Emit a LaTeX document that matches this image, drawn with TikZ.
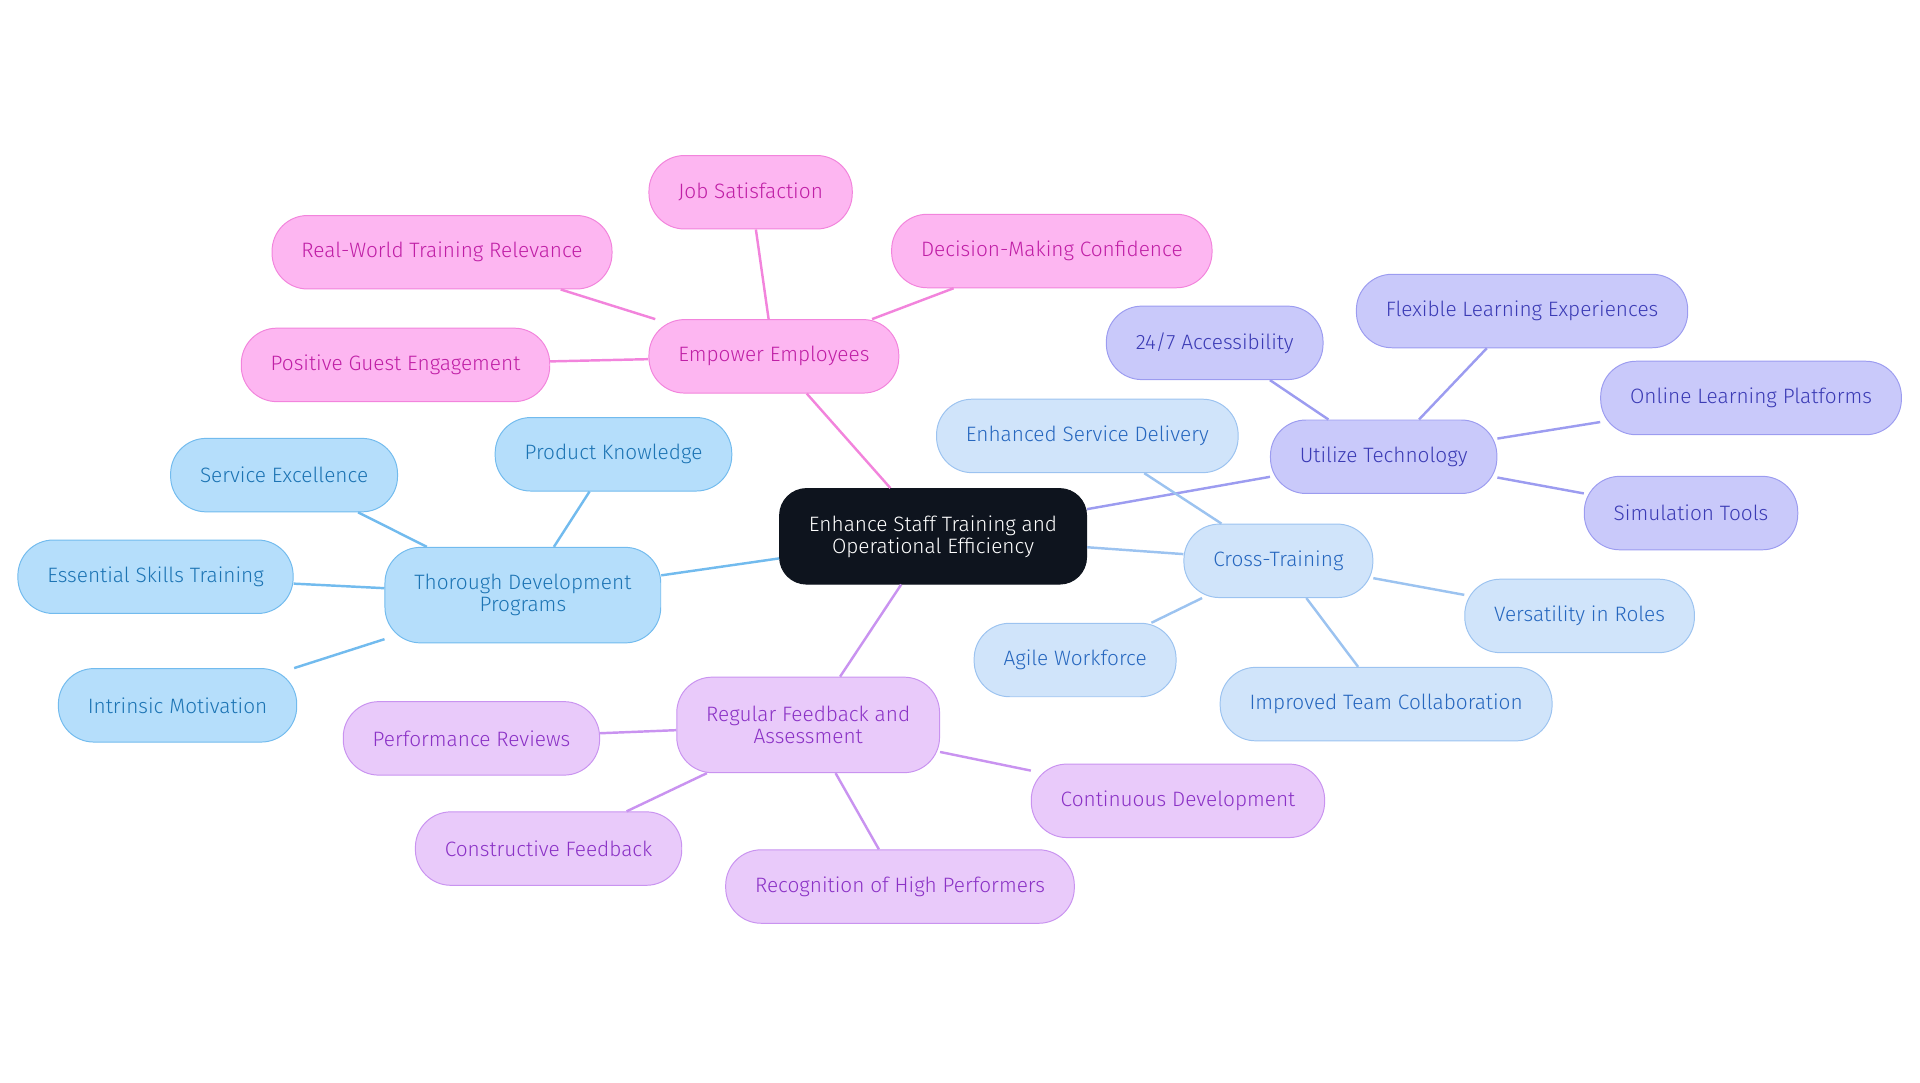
\documentclass[tikz,border=0pt]{standalone}
\usepackage{fontspec}
\setmainfont{Fira Sans}[UprightFont=* Light]
\usetikzlibrary{positioning}
\definecolor{blueF}{HTML}{B5DEFB}\definecolor{blueD}{HTML}{72BBEE}\definecolor{blueT}{HTML}{1C74B4}
\definecolor{pinkF}{HTML}{FDB6F1}\definecolor{pinkD}{HTML}{F284DC}\definecolor{pinkT}{HTML}{C01FA6}
\definecolor{lavF}{HTML}{C9C9FA}\definecolor{lavD}{HTML}{9C9CF0}\definecolor{lavT}{HTML}{3B3BB5}
\definecolor{skyF}{HTML}{D0E4FA}\definecolor{skyD}{HTML}{9CC3F0}\definecolor{skyT}{HTML}{2667BF}
\definecolor{purF}{HTML}{E9CAFA}\definecolor{purD}{HTML}{C993F0}\definecolor{purT}{HTML}{8B32C6}
\definecolor{rootF}{HTML}{0E141E}
\tikzset{
  box/.style={rectangle, rounded corners=29pt, minimum height=60pt, inner xsep=24pt,
    font=\fontsize{17}{18}\selectfont, align=center, line width=0.8pt},
  bluebox/.style={box, fill=blueF, draw=blueD, text=blueT},
  pinkbox/.style={box, fill=pinkF, draw=pinkD, text=pinkT},
  lavbox/.style={box, fill=lavF, draw=lavD, text=lavT},
  skybox/.style={box, fill=skyF, draw=skyD, text=skyT},
  purbox/.style={box, fill=purF, draw=purD, text=purT},
  link/.style={line width=2pt},
}
\begin{document}
\begin{tikzpicture}[x=1pt,y=-1pt]
    \useasboundingbox (0,0) rectangle (1568,884);

    % root
    \node [box, fill=rootF, draw=rootF, text=white, minimum height=78pt, rounded corners=22pt] (root) at (762,438) {Enhance Staff Training and\\Operational Efficiency};

    % blue branch
    \node [bluebox, minimum height=78pt] (dev) at (427,486) {Thorough Development\\Programs};
    \node [bluebox] (prod) at (501,371) {Product Knowledge};
    \node [bluebox] (serv) at (232,388) {Service Excellence};
    \node [bluebox] (ess) at (127,471) {Essential Skills Training};
    \node [bluebox] (intr) at (145,576) {Intrinsic Motivation};

    % pink branch
    \node [pinkbox] (emp) at (632,291) {Empower Employees};
    \node [pinkbox] (job) at (613,157) {Job Satisfaction};
    \node [pinkbox] (real) at (361,206) {Real-World Training Relevance};
    \node [pinkbox] (dec) at (859,205) {Decision-Making Confidence};
    \node [pinkbox] (pos) at (323,298) {Positive Guest Engagement};

    % lavender branch
    \node [lavbox] (tech) at (1130,373) {Utilize Technology};
    \node [lavbox] (acc) at (992,280) {24/7 Accessibility};
    \node [lavbox] (flex) at (1243,254) {Flexible Learning Experiences};
    \node [lavbox] (onl) at (1430,325) {Online Learning Platforms};
    \node [lavbox] (sim) at (1381,419) {Simulation Tools};

    % light blue branch
    \node [skybox] (cross) at (1044,458) {Cross-Training};
    \node [skybox] (enh) at (888,356) {Enhanced Service Delivery};
    \node [skybox] (vers) at (1290,503) {Versatility in Roles};
    \node [skybox] (agile) at (878,539) {Agile Workforce};
    \node [skybox] (team) at (1132,575) {Improved Team Collaboration};

    % purple branch
    \node [purbox, minimum height=78pt] (feed) at (660,592) {Regular Feedback and\\Assessment};
    \node [purbox] (perf) at (385,603) {Performance Reviews};
    \node [purbox] (cons) at (448,693) {Constructive Feedback};
    \node [purbox] (cont) at (962,654) {Continuous Development};
    \node [purbox] (rec) at (735,724) {Recognition of High Performers};

    % connectors
    \draw [link, blueD] (root) -- (dev);
    \foreach \n in {prod,serv,ess,intr} \draw [link, blueD] (dev) -- (\n);
    \draw [link, pinkD] (root) -- (emp);
    \foreach \n in {job,real,dec,pos} \draw [link, pinkD] (emp) -- (\n);
    \draw [link, lavD] (root) -- (tech);
    \foreach \n in {acc,flex,onl,sim} \draw [link, lavD] (tech) -- (\n);
    \draw [link, skyD] (root) -- (cross);
    \foreach \n in {enh,vers,agile,team} \draw [link, skyD] (cross) -- (\n);
    \draw [link, purD] (root) -- (feed);
    \foreach \n in {perf,cons,cont,rec} \draw [link, purD] (feed) -- (\n);
\end{tikzpicture}
\end{document}
